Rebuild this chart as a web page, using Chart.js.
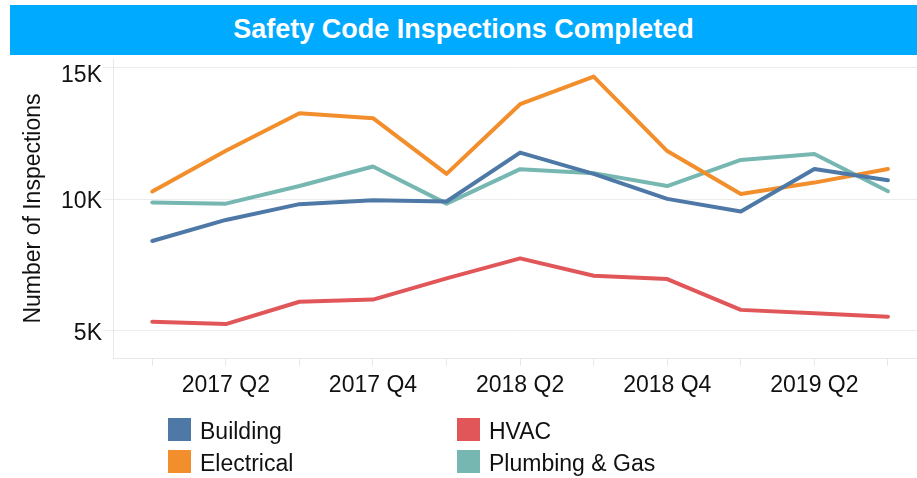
<!DOCTYPE html>
<html>
<head>
<meta charset="utf-8">
<script src="https://cdn.jsdelivr.net/npm/chart.js@4/dist/chart.umd.min.js"></script>
<style>
  html, body { margin: 0; padding: 0; background: #fff; }
  body { width: 917px; height: 478px; position: relative; overflow: hidden; font-family: "Liberation Sans", Arial, sans-serif; }
  #wrap { position: absolute; left: 0; top: 0; width: 917px; height: 478px; }
  #title { position: absolute; left: 10px; top: 5px; width: 907px; height: 50px; background: #00aaff; color: #fff;
           font: bold 27px "Liberation Sans", Arial, sans-serif; text-align: center; line-height: 48px; }
  .lg { position: absolute; height: 23px; font: 23px "Liberation Sans", Arial, sans-serif; color: #111; line-height: 23px; white-space: nowrap; }
  .lg span.sw { position: absolute; left: 0; top: 0; width: 23px; height: 23px; }
  .lg span.tx { position: absolute; left: 32px; top: 2px; }
</style>
</head>
<body>
<div id="wrap"><canvas id="c" width="917" height="478"></canvas></div>
<div id="title">Safety Code Inspections Completed</div>
<div id="legend"></div>
<script>
// ---- data ----
const quarters = ["2017 Q1","2017 Q2","2017 Q3","2017 Q4","2018 Q1","2018 Q2","2018 Q3","2018 Q4","2019 Q1","2019 Q2","2019 Q3"];
const seriesNames = ["Building","Electrical","HVAC","Plumbing & Gas"];
const building   = [8420, 9220, 9820, 9970, 9920, 11780, 10970, 10020, 9540, 11160, 10730];
const electrical = [10300, 11850, 13280, 13090, 10970, 13620, 14670, 11840, 10210, 10640, 11160];
const hvac       = [5350, 5260, 6110, 6190, 7000, 7760, 7100, 6970, 5800, 5670, 5540];
const plumbing   = [9880, 9840, 10510, 11250, 9840, 11150, 11000, 10510, 11500, 11730, 10310];
const yTickValues = [5000, 10000, 15000];
const colors = ["#4e79a7","#f28e2b","#e15759","#76b7b2"];

const seriesValues = [building, electrical, hvac, plumbing];
const datasets = seriesNames.map((name, s) => ({
  label: name,
  data: seriesValues[s].map((v, i) => ({ x: i, y: v })),
  borderColor: colors[s],
  backgroundColor: colors[s],
  borderWidth: 4,
  pointRadius: 0,
  pointHoverRadius: 0,
  tension: 0,
  borderCapStyle: 'round',
  borderJoinStyle: 'round',
  fill: false
}));

const FONT = "'Liberation Sans', Arial, sans-serif";

new Chart(document.getElementById('c'), {
  type: 'line',
  data: { datasets },
  options: {
    responsive: false,
    animation: false,
    events: [],
    layout: { padding: { top: 59, bottom: 70, left: 0, right: 0 } },
    plugins: { legend: { display: false }, title: { display: false }, tooltip: { enabled: false } },
    scales: {
      x: {
        type: 'linear',
        min: -0.534,
        max: 10.395,
        afterBuildTicks: (scale) => { scale.ticks = quarters.map((q, i) => ({ value: i })); },
        afterFit: (scale) => { scale.height = 50; },
        ticks: {
          autoSkip: false,
          maxRotation: 0,
          minRotation: 0,
          padding: 6,
          color: '#111',
          font: { family: FONT, size: 23 },
          callback: (v, i) => (i % 2 === 1 ? quarters[i] : '')
        },
        grid: { drawOnChartArea: false, drawTicks: true, tickLength: 8, color: '#e8e8e8', lineWidth: 1 },
        border: { display: true, color: '#e8e8e8', width: 1 }
      },
      y: {
        min: 3970,
        max: 15340,
        afterBuildTicks: (scale) => { scale.ticks = yTickValues.map(v => ({ value: v })); },
        afterFit: (scale) => { scale.width = 113; },
        ticks: {
          padding: 1,
          color: '#111',
          // an empty first line nudges each label down a little (the top one more)
          font: (ctx) => ({ family: FONT, size: 23, lineHeight: (ctx.tick && ctx.tick.value === 15000) ? 0.68 : 0.22 }),
          callback: (v) => ['', (v / 1000) + 'K']
        },
        grid: { drawOnChartArea: true, drawTicks: true, tickLength: 10, color: '#ececec', lineWidth: 1 },
        border: { display: true, color: '#e8e8e8', width: 1 },
        title: {
          display: true,
          text: 'Number of Inspections',
          color: '#111',
          font: { family: FONT, size: 23 },
          padding: { top: 20, bottom: 0 }
        }
      }
    }
  }
});

// legend (two columns, built from the series arrays)
const legendPos = [[168, 418], [168, 450], [457, 418], [457, 450]];
const lg = document.getElementById('legend');
seriesNames.forEach((name, s) => {
  const d = document.createElement('div');
  d.className = 'lg';
  d.style.left = legendPos[s][0] + 'px';
  d.style.top = legendPos[s][1] + 'px';
  const sw = document.createElement('span');
  sw.className = 'sw';
  sw.style.background = colors[s];
  const tx = document.createElement('span');
  tx.className = 'tx';
  tx.textContent = name;
  d.appendChild(sw); d.appendChild(tx);
  lg.appendChild(d);
});
</script>
</body>
</html>
